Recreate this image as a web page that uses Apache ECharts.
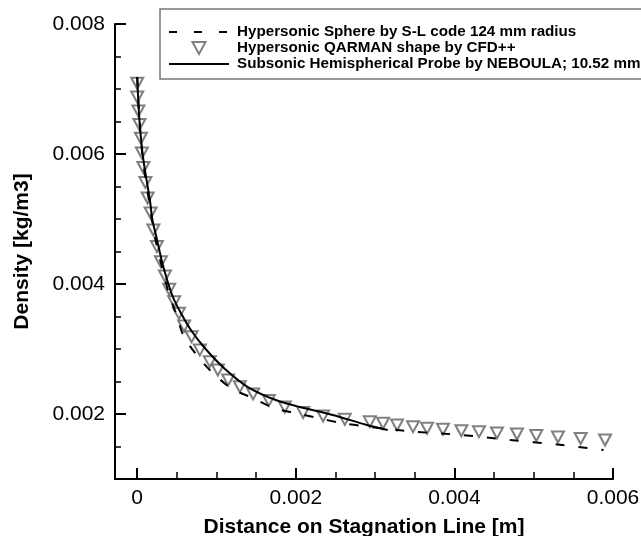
<!DOCTYPE html>
<html>
<head>
<meta charset="utf-8">
<script src="https://cdn.jsdelivr.net/npm/echarts@6/dist/echarts.min.js"></script>
<style>
  html, body { margin: 0; padding: 0; background: #fff; }
  #chart { width: 641px; height: 536px; }
</style>
</head>
<body>
<div id="chart"></div>
<script>
// tick positions
const xTickLabels = [0, 0.002, 0.004, 0.006];
const xMinorTicks = [0.0005, 0.001, 0.0015, 0.0025, 0.003, 0.0035, 0.0045, 0.005, 0.0055];
const yTickLabels = [0.002, 0.004, 0.006, 0.008];
const yMinorTicks = [0.0015, 0.0025, 0.003, 0.0035, 0.0045, 0.005, 0.0055, 0.0065, 0.007, 0.0075];

// series names
const seriesNames = [
  'Hypersonic Sphere by S-L code 124 mm radius',
  'Hypersonic QARMAN shape by CFD++',
  'Subsonic Hemispherical Probe by NEBOULA; 10.52 mm'
];

// dashed: sphere by S-L code
const sphereX = [0, 0.000028, 0.000072, 0.000147, 0.000223, 0.000311, 0.000412, 0.000497, 0.00058,
  0.000749, 0.000958, 0.00119, 0.001462, 0.001735, 0.002009, 0.002261, 0.002592, 0.002907,
  0.0035, 0.004088, 0.004697, 0.005302, 0.005881];
const sphereY = [0.007185, 0.006523, 0.005908, 0.005292, 0.004723, 0.004262, 0.0038, 0.003523, 0.003215,
  0.002908, 0.002626, 0.002395, 0.002242, 0.002088, 0.002011, 0.001943, 0.001857, 0.001805,
  0.001728, 0.001677, 0.0016, 0.001531, 0.001446];

// triangles: QARMAN by CFD++
const qarmanX = [0, 0, 0.000015, 0.000028, 0.000047, 0.000059, 0.000078, 0.000103, 0.000132, 0.000169,
  0.000204, 0.000248, 0.000299, 0.00035, 0.000403, 0.000466, 0.000526, 0.000592, 0.000686, 0.00079,
  0.000916, 0.001017, 0.001147, 0.001294, 0.001462, 0.00166, 0.001861, 0.002092, 0.002344, 0.002618,
  0.002933, 0.0031, 0.003277, 0.003478, 0.003655, 0.003856, 0.004088, 0.00431, 0.004537, 0.004789,
  0.005033, 0.005306, 0.005592, 0.0059];
const qarmanY = [0.007088, 0.006877, 0.006662, 0.006454, 0.006242, 0.006015, 0.005792, 0.005562, 0.005323, 0.005092,
  0.004831, 0.004577, 0.004343, 0.004123, 0.003918, 0.003728, 0.003549, 0.003354, 0.003189, 0.002985,
  0.002805, 0.002677, 0.002523, 0.00242, 0.002308, 0.002208, 0.002108, 0.002023, 0.001969, 0.001918,
  0.001882, 0.001857, 0.001831, 0.001805, 0.00178, 0.001765, 0.001743, 0.001728, 0.001708, 0.001692,
  0.001669, 0.001646, 0.001623, 0.0016];

// solid: hemispherical probe by NEBOULA
const probeX = [0, 0.000028, 0.000078, 0.00016, 0.000192, 0.000242, 0.00033, 0.00045, 0.000551,
  0.000677, 0.000841, 0.001093, 0.001395, 0.001748, 0.00205, 0.002466, 0.002895, 0.003159];
const probeY = [0.007185, 0.006523, 0.005908, 0.005292, 0.004985, 0.004723, 0.004262, 0.0038, 0.003554,
  0.003292, 0.003031, 0.002708, 0.002415, 0.002215, 0.002108, 0.001985, 0.001831, 0.001754];

const zip = (xs, ys) => xs.map((x, i) => [x, ys[i]]);

const chart = echarts.init(document.getElementById('chart'));
const font = 'Liberation Sans';
const X_MIN = -0.00028, X_MAX = 0.006, Y_MIN = 0.001, Y_MAX = 0.008;
const gridPos = { left: 115, right: 28, top: 24, bottom: 57, containLabel: false, outerBoundsMode: 'none' };

const option = {
  animation: false,
  grid: [
    Object.assign({}, gridPos),
    Object.assign({}, gridPos)
  ],
  legend: {
    left: 160,
    top: 9,
    orient: 'vertical',
    padding: [15, 30, 7, 8],
    itemGap: 0,
    itemWidth: 60,
    itemHeight: 12,
    borderColor: '#777',
    borderWidth: 1.5,
    textStyle: {
      fontFamily: font, fontWeight: 'bold', fontSize: 15.2, color: '#000',
      lineHeight: 16, padding: [0, 0, 0, 3]
    },
    data: [
      { name: seriesNames[0], lineStyle: { type: [8, 17] }, itemStyle: { opacity: 0 } },
      { name: seriesNames[1], icon: 'path://M0,0L12,0L6,11Z', symbolRotate: 0 },
      { name: seriesNames[2], itemStyle: { opacity: 0 } }
    ]
  },
  xAxis: [
    {
      type: 'value', gridIndex: 0, min: X_MIN, max: X_MAX,
      name: 'Distance on Stagnation Line [m]',
      nameLocation: 'middle', nameGap: 38,
      nameTextStyle: { fontFamily: font, fontWeight: 'bold', fontSize: 21, color: '#000' },
      axisLine: { onZero: false, lineStyle: { color: '#000', width: 2 } },
      axisTick: { inside: true, length: 11, customValues: xTickLabels, lineStyle: { color: '#000', width: 2 } },
      axisLabel: { customValues: xTickLabels, margin: 9, fontFamily: font, fontSize: 21, color: '#000' },
      splitLine: { show: false }
    },
    {
      type: 'value', gridIndex: 1, min: X_MIN, max: X_MAX, position: 'bottom',
      axisLine: { show: false, onZero: false },
      axisTick: { show: true, inside: true, length: 7, customValues: xMinorTicks, lineStyle: { color: '#000', width: 1.5 } },
      axisLabel: { show: false },
      splitLine: { show: false }
    }
  ],
  yAxis: [
    {
      type: 'value', gridIndex: 0, min: Y_MIN, max: Y_MAX,
      name: 'Density [kg/m3]',
      nameLocation: 'middle', nameGap: 82,
      nameTextStyle: { fontFamily: font, fontWeight: 'bold', fontSize: 21, color: '#000' },
      axisLine: { show: true, onZero: false, lineStyle: { color: '#000', width: 2 } },
      axisTick: { show: true, inside: true, length: 11, customValues: yTickLabels, lineStyle: { color: '#000', width: 2 } },
      axisLabel: { customValues: yTickLabels, margin: 10, fontFamily: font, fontSize: 21, color: '#000' },
      splitLine: { show: false }
    },
    {
      type: 'value', gridIndex: 1, min: Y_MIN, max: Y_MAX, position: 'left',
      axisLine: { show: false, onZero: false },
      axisTick: { show: true, inside: true, length: 6, customValues: yMinorTicks, lineStyle: { color: '#000', width: 1.5 } },
      axisLabel: { show: false },
      splitLine: { show: false }
    }
  ],
  series: [
    {
      name: seriesNames[1],
      type: 'scatter',
      data: zip(qarmanX, qarmanY),
      symbol: 'triangle',
      symbolRotate: 180,
      symbolSize: [12, 11],
      clip: false,
      itemStyle: { color: 'rgba(255,255,255,0)', borderColor: '#606060', borderWidth: 2 },
      z: 2
    },
    {
      name: seriesNames[0],
      type: 'line',
      data: zip(sphereX, sphereY),
      symbol: 'none',
      smooth: 0.3,
      lineStyle: { color: '#000', width: 2, type: [9, 14] },
      itemStyle: { color: '#000' },
      z: 3
    },
    {
      name: seriesNames[2],
      type: 'line',
      data: zip(probeX, probeY),
      symbol: 'none',
      smooth: 0.3,
      lineStyle: { color: '#000', width: 2 },
      itemStyle: { color: '#000' },
      z: 3
    }
  ]
};

chart.setOption(option);
</script>
</body>
</html>
